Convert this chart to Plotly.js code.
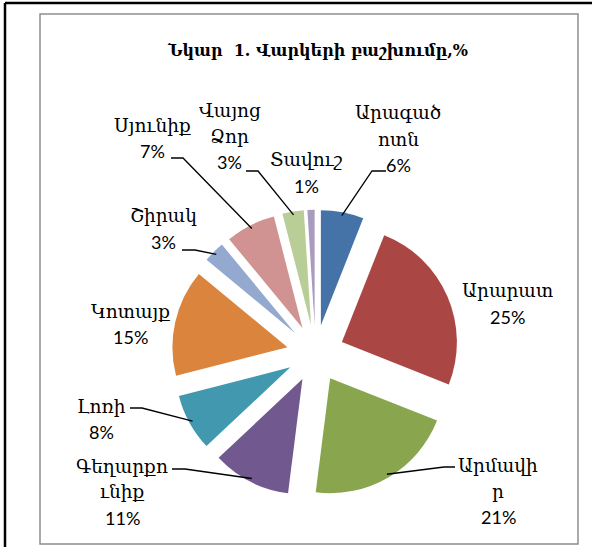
<!DOCTYPE html>
<html>
<head>
<meta charset="utf-8">
<script src="https://cdn.plot.ly/plotly-3.0.1.min.js"></script>
<style>html,body{margin:0;padding:0;background:#fff;}#chart{width:592px;height:547px;}</style>
</head>
<body>
<div id="chart"></div>
<script>
// ---- data ----
const categories = ['Արագածոտն','Արարատ','Արմավիր','Գեղարքունիք','Լոռի','Կոտայք','Շիրակ','Սյունիք','Վայոց Ձոր','Տավուշ'];
const values = [6, 25, 21, 11, 8, 15, 3, 7, 3, 1];
// label text as wrapped in the original (one entry per line)
const labelText = [['Արագած','ոտն'],['Արարատ'],['Արմավի','ր'],['Գեղարքո','ւնիք'],['Լոռի'],['Կոտայք'],['Շիրակ'],['Սյունիք'],['Վայոց','Ձոր'],['Տավուշ']];
const colors = ['#4572A7','#AA4643','#89A54E','#71588F','#4198AF','#DB843D','#93A9CF','#D19392','#B9CD96','#A99BBD'];
const titleText = 'Նկար  1. Վարկերի բաշխումը,%';

// ---- layout constants (pixels) ----
const W = 592, H = 547;
const cx = 315.5, cy = 353.5, R = 115, PULL = 0.25;
const labelPos = [[398,113],[507,291],[498,465],[122,466],[101,406],[130,311],[163,216],[152,125],[230,110],[307,160]];
const lineGap = 26;
// leader lines: [xStart near text, xElbow, y]
const leaders = {0:[386,372,171], 2:[455,444,467], 3:[172,185,469], 4:[130,142,408], 6:[182,195,250], 7:[171,183,158], 8:[246,258,171]};

const px = x => x / W;
const py = y => 1 - y / H;

const total = values.reduce((a,b)=>a+b,0);
const ext = R * (1 + PULL);

const annotations = [];
const shapes = [];
const nameFont = {family: "'DejaVu Serif', serif", size: 18.5, color: '#000'};
const pctFont = {family: "Lato, 'DejaVu Sans', sans-serif", size: 18, color: '#000'};

let cum = 0;
values.forEach((v, i) => {
  const lines = labelText[i];
  lines.forEach((t, k) => {
    annotations.push({xref:'paper', yref:'paper', x: px(labelPos[i][0]), y: py(labelPos[i][1] + k*lineGap),
      text: t, showarrow: false, xanchor:'center', yanchor:'middle', font: nameFont});
  });
  annotations.push({xref:'paper', yref:'paper', x: px(labelPos[i][0]), y: py(labelPos[i][1] + lines.length*lineGap),
      text: Math.round(v / total * 100) + '%', showarrow: false, xanchor:'center', yanchor:'middle', font: pctFont});
  const th = 2*Math.PI*(cum + v/2)/total;
  cum += v;
  if (leaders[i]) {
    const ax = cx + PULL*R*Math.sin(th) + 0.97*R*Math.sin(th);
    const ay = cy - PULL*R*Math.cos(th) - 0.97*R*Math.cos(th);
    const [xs, xe, yl] = leaders[i];
    shapes.push({type:'path', xref:'paper', yref:'paper',
      path: `M ${px(xs)} ${py(yl)} L ${px(xe)} ${py(yl)} L ${px(ax)} ${py(ay)}`,
      line:{color:'#000', width:1.3}});
  }
});

// frames
shapes.push({type:'rect', xref:'paper', yref:'paper', x0:px(40), x1:px(578), y0:py(14), y1:py(544), line:{color:'#8e8e8e', width:1.5}});
shapes.push({type:'line', xref:'paper', yref:'paper', x0:px(5), x1:px(592), y0:py(3), y1:py(3), line:{color:'#000', width:2.5}});
shapes.push({type:'line', xref:'paper', yref:'paper', x0:px(5), x1:px(5), y0:py(3), y1:py(547), line:{color:'#000', width:2.5}});

const trace = {
  type: 'pie',
  labels: categories,
  values: values,
  sort: false,
  direction: 'clockwise',
  rotation: 0,
  pull: values.map(() => PULL),
  marker: {colors: colors, line: {width: 0}},
  textinfo: 'none',
  hoverinfo: 'skip',
  domain: {x: [px(cx - ext), px(cx + ext)], y: [py(cy + ext), py(cy - ext)]}
};

const layout = {
  width: W, height: H,
  margin: {l:0, r:0, t:0, b:0},
  paper_bgcolor: '#fff',
  showlegend: false,
  title: {text: '<b>' + titleText + '</b>', x: px(318), y: py(50), xref:'paper', yref:'paper', xanchor:'center', yanchor:'middle',
    font: {family: "'DejaVu Serif', serif", size: 16, color: '#000'}},
  annotations: annotations,
  shapes: shapes
};

Plotly.newPlot('chart', [trace], layout, {displayModeBar: false, staticPlot: true});
</script>
</body>
</html>
